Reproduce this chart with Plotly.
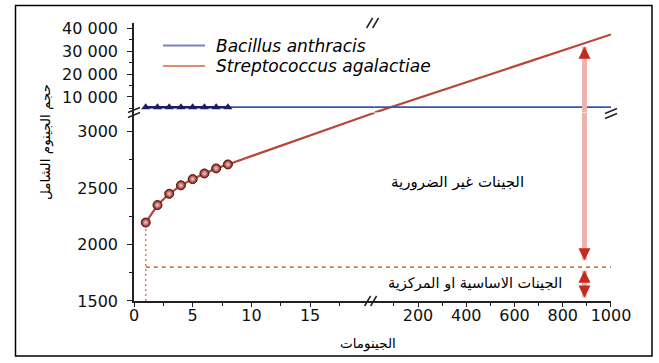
import plotly.graph_objects as go

# ---------------- data ----------------
strep_name = "Streptococcus agalactiae"
strep_x = [1, 2, 3, 4, 5, 6, 7, 8]
strep_y = [2195, 2350, 2450, 2525, 2580, 2630, 2675, 2710]
strep_fit_x = [8, 20, 1000]
strep_fit_y = [2710, 3150, 37400]

bac_name = "Bacillus anthracis"
bac_x = [1, 2, 3, 4, 5, 6, 7, 8]
bac_y = [5500, 5500, 5500, 5500, 5500, 5500, 5500, 5500]
bac_fit_x = [8, 1000]
bac_fit_y = [5500, 5500]

core_level = 1800
core_x = [1, 1000]
core_vline_y = [1500, 2195]

arrow_x = 890
dispensable_top = 32000
dispensable_bottom = 1860
core_top = 1770
core_bottom = 1530

# axis segments
x_low_range = [0, 20.5]
x_high_range = [20, 1000]
y_low_range = [1500, 3170]
y_high_range = [3170, 42420]

x_low_ticks = [0, 5, 10, 15]
x_low_labels = ["0", "5", "10", "15"]
x_low_minor = [2.5, 7.5, 12.5, 17.5]
x_high_ticks = [200, 400, 600, 800, 1000]
x_high_labels = ["200", "400", "600", "800", "1000"]
x_high_minor = [100, 300, 500, 700, 900]
y_low_ticks = [1500, 2000, 2500, 3000]
y_low_labels = ["1500", "2000", "2500", "3000"]
y_low_minor = [1750, 2250, 2750]
y_high_ticks = [10000, 20000, 30000, 40000]
y_high_labels = ["10 000", "20 000", "30 000", "40 000"]
y_high_minor = [5000, 15000, 25000, 35000]

x_title = "الجينومات"
y_title = "حجم الجينوم الشامل"
label_dispensable = "الجينات غير الضرورية"
label_core = "الجينات الاساسية او المركزية"

# ---------------- styling ----------------
W, H = 659, 363
P_LEFT, P_RIGHT, P_TOP, P_BOTTOM = 134, 611, 23, 301   # plot area in pixels
ML, MT = P_LEFT, P_TOP
MR, MB = W - P_RIGHT, H - P_BOTTOM
PW, PH = P_RIGHT - P_LEFT, P_BOTTOM - P_TOP
XF = 0.5044
YF = 0.678

RED = "#b8473a"
RED_MARK = "#8a1a12"
BLUE = "#3457a8"
NAVY = "#1b1f62"
ORANGE = "#cf7a48"
PINK = "#ecb4ac"
HEAD = "#c42a20"
AX = "#222222"
FONT = "DejaVu Sans"


def px(x):
    return (x - P_LEFT) / PW


def py(y):
    return (P_BOTTOM - y) / PH


fig = go.Figure()

# Streptococcus fit line in the panels where it is visible
for xa, ya in [("x", "y"), ("x2", "y2")]:
    fig.add_trace(go.Scatter(x=strep_fit_x, y=strep_fit_y, mode="lines",
                             line=dict(color=RED, width=2.2),
                             xaxis=xa, yaxis=ya, showlegend=False, hoverinfo="skip"))

# core level dashed line
for xa in ["x", "x2"]:
    fig.add_trace(go.Scatter(x=core_x, y=[core_level, core_level], mode="lines",
                             line=dict(color=ORANGE, width=1.6, dash="4px,4px"),
                             xaxis=xa, yaxis="y", showlegend=False, hoverinfo="skip"))
fig.add_trace(go.Scatter(x=[strep_x[0], strep_x[0]], y=core_vline_y, mode="lines",
                         line=dict(color=ORANGE, width=1.4, dash="2px,3px"),
                         xaxis="x", yaxis="y", showlegend=False, hoverinfo="skip"))

# Streptococcus points
fig.add_trace(go.Scatter(x=strep_x, y=strep_y, mode="lines+markers", name=strep_name,
                         line=dict(color=RED, width=2.2),
                         marker=dict(symbol="circle", size=9, color=RED_MARK,
                                     gradient=dict(type="radial", color="#f3d6cf"),
                                     line=dict(color="#5c0d08", width=1)),
                         xaxis="x", yaxis="y", showlegend=False))

# Bacillus
for xa in ["x", "x2"]:
    fig.add_trace(go.Scatter(x=bac_fit_x, y=bac_fit_y, mode="lines",
                             line=dict(color=BLUE, width=1.8),
                             xaxis=xa, yaxis="y2", showlegend=False, hoverinfo="skip"))
fig.add_trace(go.Scatter(x=bac_x, y=bac_y, mode="lines+markers", name=bac_name,
                         line=dict(color=NAVY, width=2.6),
                         marker=dict(symbol="triangle-up", size=8, color=NAVY),
                         xaxis="x", yaxis="y2", showlegend=False))

tickfont = dict(family=FONT, size=16, color="#111")
base = dict(showline=True, linecolor=AX, linewidth=1.5, showgrid=False, zeroline=False,
            tickcolor=AX, tickwidth=1.2, tickfont=tickfont, tickmode="array", fixedrange=True)


def minor(vals, ticks):
    return dict(tickmode="array", tickvals=vals, ticks=ticks, ticklen=3, tickcolor=AX, tickwidth=1)


fig.update_layout(
    width=W, height=H,
    margin=dict(l=ML, r=MR, t=MT, b=MB, autoexpand=False),
    paper_bgcolor="white", plot_bgcolor="white",
    showlegend=False,
    xaxis=dict(base, domain=[0, XF], range=x_low_range, anchor="y",
               tickvals=x_low_ticks, ticktext=x_low_labels, ticks="outside", ticklen=4,
               ticklabelstandoff=-5, minor=minor(x_low_minor, "outside")),
    xaxis2=dict(base, domain=[XF, 1], range=x_high_range, anchor="y",
                tickvals=x_high_ticks, ticktext=x_high_labels, ticks="outside", ticklen=4,
                ticklabelstandoff=-5, minor=minor(x_high_minor, "outside")),
    yaxis=dict(base, domain=[0, YF], range=y_low_range, anchor="x",
               tickvals=y_low_ticks, ticktext=y_low_labels, ticks="outside", ticklen=5,
               ticklabelstandoff=6, minor=minor(y_low_minor, "outside")),
    yaxis2=dict(base, domain=[YF, 1], range=y_high_range, anchor="x",
                tickvals=y_high_ticks, ticktext=y_high_labels, ticks="outside", ticklen=5,
                ticklabelstandoff=6, minor=minor(y_high_minor, "outside")),
    xaxis3=dict(base, domain=[0, XF], range=x_low_range, anchor="y2", side="top",
                tickvals=x_low_ticks, ticks="inside", ticklen=4, showticklabels=False,
                minor=minor(x_low_minor, "inside")),
    xaxis4=dict(base, domain=[XF, 1], range=x_high_range, anchor="y2", side="top",
                tickvals=x_high_ticks, ticks="inside", ticklen=4, showticklabels=False,
                minor=minor(x_high_minor, "inside")),
    yaxis3=dict(base, domain=[0, YF], range=y_low_range, anchor="x2", side="right",
                tickvals=y_low_ticks, ticks="inside", ticklen=4, showticklabels=False,
                minor=minor(y_low_minor, "inside")),
    yaxis4=dict(base, domain=[YF, 1], range=y_high_range, anchor="x2", side="right",
                tickvals=y_high_ticks, ticks="inside", ticklen=4, showticklabels=False,
                minor=minor(y_high_minor, "inside")),
)

shapes = []
# outer frame
shapes.append(dict(type="rect", xref="paper", yref="paper",
                   x0=px(15.5), x1=px(652), y0=py(356), y1=py(5.5),
                   line=dict(color="black", width=1.5)))
# arrow shafts
shapes.append(dict(type="line", xref="x2", yref="y2", x0=arrow_x, x1=arrow_x,
                   y0=dispensable_top, y1=y_high_range[0], line=dict(color=PINK, width=5)))
shapes.append(dict(type="line", xref="x2", yref="y", x0=arrow_x, x1=arrow_x,
                   y0=y_low_range[1], y1=dispensable_bottom, line=dict(color=PINK, width=5)))
shapes.append(dict(type="line", xref="x2", yref="y", x0=arrow_x, x1=arrow_x,
                   y0=core_top, y1=core_bottom, line=dict(color=PINK, width=5)))


# axis break marks "//"
def brk_h(cx, cy):
    out = []
    for dx in (-3, 3):
        out.append(dict(type="line", xref="paper", yref="paper",
                        x0=px(cx + dx - 3), y0=py(cy + 5), x1=px(cx + dx + 3), y1=py(cy - 5),
                        line=dict(color=AX, width=1.5)))
    return out


def brk_v(cx, cy):
    out = []
    for dy in (-2.5, 2.5):
        out.append(dict(type="line", xref="paper", yref="paper",
                        x0=px(cx - 6), y0=py(cy + dy + 2.5), x1=px(cx + 6), y1=py(cy + dy - 2.5),
                        line=dict(color=AX, width=1.5)))
    return out


bx = P_LEFT + XF * PW
byy = P_BOTTOM - YF * PH
shapes += brk_h(bx - 2, P_TOP)
shapes += brk_h(bx - 4, P_BOTTOM)
shapes += brk_v(P_LEFT, byy)
shapes += brk_v(P_RIGHT, byy + 1)

# legend samples
LEG1, LEG2 = 45.5, 66
shapes.append(dict(type="line", xref="paper", yref="paper", x0=px(163), x1=px(205),
                   y0=py(LEG1), y1=py(LEG1), line=dict(color="#7c80c0", width=2)))
shapes.append(dict(type="line", xref="paper", yref="paper", x0=px(163), x1=px(205),
                   y0=py(LEG2), y1=py(LEG2), line=dict(color="#dc8e72", width=2)))


def note(x, y, text, size, xanchor="center", angle=0):
    return dict(xref="paper", yref="paper", x=px(x), y=py(y), text=text, textangle=angle,
                showarrow=False, xanchor=xanchor, yanchor="middle", borderpad=0,
                font=dict(family=FONT, size=size, color="black"))


annotations = [
    note(215, LEG1, f"<i>{bac_name}</i>", 17, "left"),
    note(215, LEG2, f"<i>{strep_name}</i>", 17, "left"),
    note(457, 182, label_dispensable, 15),
    note(475, 283, label_core, 14.5),
    note(368, 343, x_title, 13.5),
    note(45, 142, y_title, 13.5, angle=-90),
]
# arrow heads
heads = [("y2", dispensable_top, 10), ("y", dispensable_bottom, -10),
         ("y", core_top, 10), ("y", core_bottom, -10)]
for yr, yv, ay in heads:
    annotations.append(dict(xref="x2", yref=yr, x=arrow_x, y=yv, text="", showarrow=True,
                            ax=0, ay=ay, arrowhead=2, arrowsize=1.1, arrowwidth=2.2,
                            arrowcolor=HEAD))

fig.update_layout(shapes=shapes, annotations=annotations)
fig.write_html(
    "out.html",
    config={"displayModeBar": False},
    post_script=("document.documentElement.style.overflow='hidden';"
                 "document.body.style.overflow='hidden';"
                 "document.body.style.margin='0';"),
)
